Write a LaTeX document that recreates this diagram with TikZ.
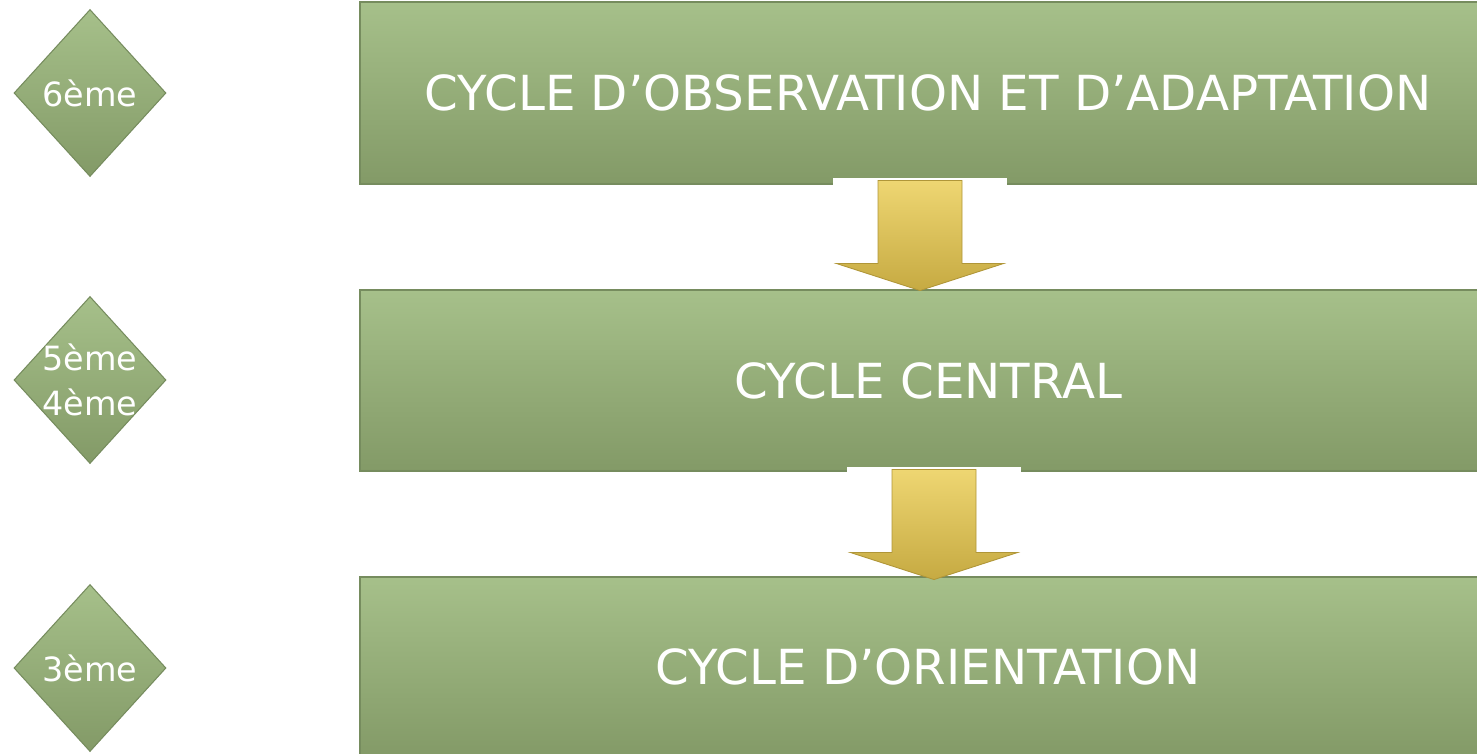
\documentclass[tikz,border=0pt]{standalone}
\usepackage{fontspec}
\setmainfont{DejaVu Sans}
\usetikzlibrary{shapes.geometric, positioning, calc}

\definecolor{vertclair}{RGB}{166,192,138}
\definecolor{vertfonce}{RGB}{131,154,103}
\definecolor{vertbord}{RGB}{118,140,94}
\definecolor{orclair}{RGB}{238,214,114}
\definecolor{orfonce}{RGB}{198,170,66}
\definecolor{orbord}{RGB}{176,150,56}

\tikzset{
    cyclebox/.style={rectangle, top color=vertclair, bottom color=vertfonce,
        draw=vertbord, line width=0.6pt, minimum width=22.72cm,
        text=white, font=\fontsize{27.5}{32}\selectfont},
    niveau/.style={diamond, top color=vertclair, bottom color=vertfonce,
        draw=vertbord, line width=0.6pt, minimum width=3.04cm,
        minimum height=3.34cm, inner sep=0pt, text=white,
        font=\fontsize{19}{26}\selectfont},
    fleche/.pic={
        \fill[white] (-1.74,0.06) rectangle (1.74,-0.12);
        \draw[orbord, line width=0.5pt, top color=orclair, bottom color=orfonce]
            (-0.84,0) -- (0.84,0) -- (0.84,-1.66) -- (1.67,-1.66)
            -- (0,-2.2) -- (-1.67,-1.66) -- (-0.84,-1.66) -- cycle;
    }
}

\begin{document}
\begin{tikzpicture}
    \useasboundingbox (0,0) rectangle (29.54,-15.06);

    % les trois cycles
    \node[cyclebox, minimum height=3.64cm] (obs) at (18.56,-1.86) {CYCLE D’OBSERVATION ET D’ADAPTATION};
    \node[cyclebox, minimum height=3.62cm] (central) at (18.56,-7.61) {CYCLE CENTRAL};
    \node[cyclebox, minimum height=3.6cm] (orient) at (18.56,-13.34) {CYCLE D’ORIENTATION};

    % les niveaux
    \node[niveau] (sixieme) at (1.8,-1.86) {6ème};
    \node[niveau, label={[text=white, align=center, font=\fontsize{19}{26}\selectfont]center:5ème\\4ème}] (cinquieme) at (1.8,-7.6) {};
    \node[niveau] (troisieme) at (1.8,-13.36) {3ème};

    % fleches entre les cycles
    \path ($(obs.south)+(-0.16,0.08)$) pic {fleche};
    \path ($(central.south)+(0.12,0.04)$) pic {fleche};
\end{tikzpicture}
\end{document}
